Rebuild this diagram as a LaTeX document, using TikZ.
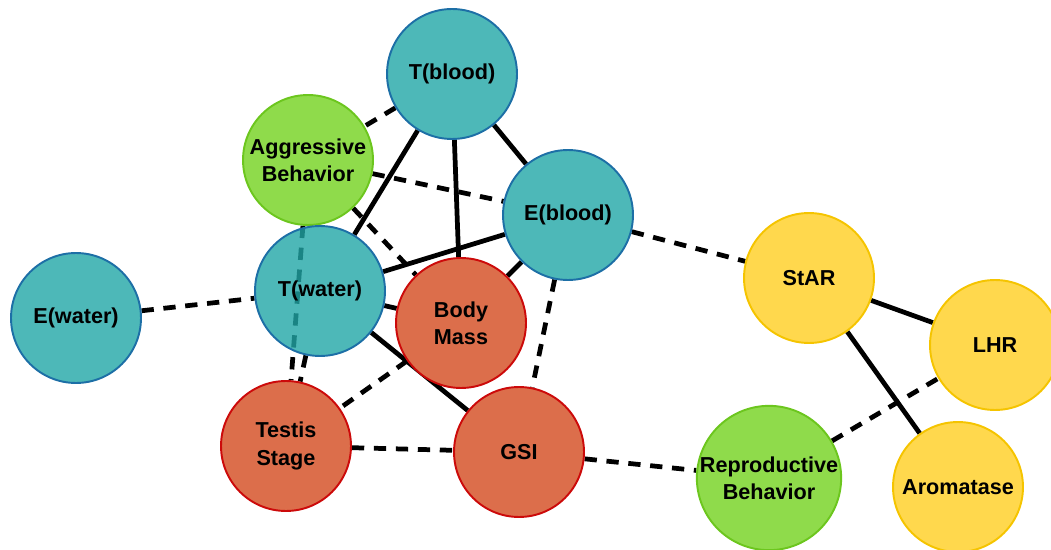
\documentclass[tikz,border=0pt]{standalone}
\usepackage{fontspec}
\setmainfont{Liberation Sans}
\usepackage{xcolor}
\usetikzlibrary{backgrounds}
\definecolor{hormfill}{HTML}{4DB8B8}
\definecolor{hormdeep}{HTML}{21A6A6}
\definecolor{hormline}{HTML}{1D6FA6}
\definecolor{behfill}{HTML}{8FDB4B}
\definecolor{behline}{HTML}{6CC61E}
\definecolor{morfill}{HTML}{DC6E4B}
\definecolor{morline}{HTML}{CC0A0A}
\definecolor{genfill}{HTML}{FFD84D}
\definecolor{genline}{HTML}{F5C400}

\begin{document}
\begin{tikzpicture}[x=0.02cm, y=-0.02cm,
    var/.style={circle, minimum size=2.6cm, inner sep=0pt, line width=1.1pt, align=center,
        font=\bfseries\fontsize{12.3}{15.5}\selectfont},
    hormone/.style={var, fill=hormfill, draw=hormline},
    behav/.style={var, fill=behfill, draw=behline},
    morph/.style={var, fill=morfill, draw=morline},
    gene/.style={var, fill=genfill, draw=genline},
    solidlink/.style={line width=2.7pt},
    dashlink/.style={line width=2.7pt, dash pattern=on 7pt off 5.5pt}]
    \useasboundingbox (0,0) rectangle (1051,550);
    \node[hormone] (tblood) at (452,74) {T(blood)};
    \node[behav] (aggr) at (308,160) {Aggressive\\Behavior};
    \node[hormone] (eblood) at (568,215) {E(blood)};
    \node[hormone, fill=hormdeep, fill opacity=0.8, text opacity=1] (twater) at (320,291) {T(water)};
    \node[hormone] (ewater) at (76,318) {E(water)};
    \node[morph] (mass) at (461,323) {Body\\Mass};
    \node[morph] (testis) at (286,446) {Testis\\Stage};
    \node[morph] (gsi) at (519,452) {GSI};
    \node[gene] (star) at (809,278) {StAR};
    \node[gene] (lhr) at (995,345) {LHR};
    \node[gene] (arom) at (958,487) {Aromatase};
    \node[behav] (repro) at (769,478) {Reproductive\\Behavior};
    \begin{scope}[on background layer]
        \draw[solidlink] (tblood) -- (eblood);
        \draw[solidlink] (tblood) -- (twater);
        \draw[solidlink] (tblood) -- (mass);
        \draw[solidlink] (eblood) -- (twater);
        \draw[solidlink] (eblood) -- (mass);
        \draw[solidlink] (twater) -- (mass);
        \draw[solidlink] (twater) -- (gsi);
        \draw[solidlink] (star) -- (lhr);
        \draw[solidlink] (star) -- (arom);
        \draw[dashlink] (tblood) -- (aggr);
        \draw[dashlink] (aggr) -- (eblood);
        \draw[dashlink] (aggr) -- (mass);
        \draw[dashlink] (aggr) -- (testis);
        \draw[dashlink] (ewater) -- (twater);
        \draw[dashlink] (twater) -- (testis);
        \draw[dashlink] (eblood) -- (gsi);
        \draw[dashlink] (eblood) -- (star);
        \draw[dashlink] (mass) -- (testis);
        \draw[dashlink] (testis) -- (gsi);
        \draw[dashlink] (gsi) -- (repro);
        \draw[dashlink] (repro) -- (lhr);
    \end{scope}
\end{tikzpicture}
\end{document}
